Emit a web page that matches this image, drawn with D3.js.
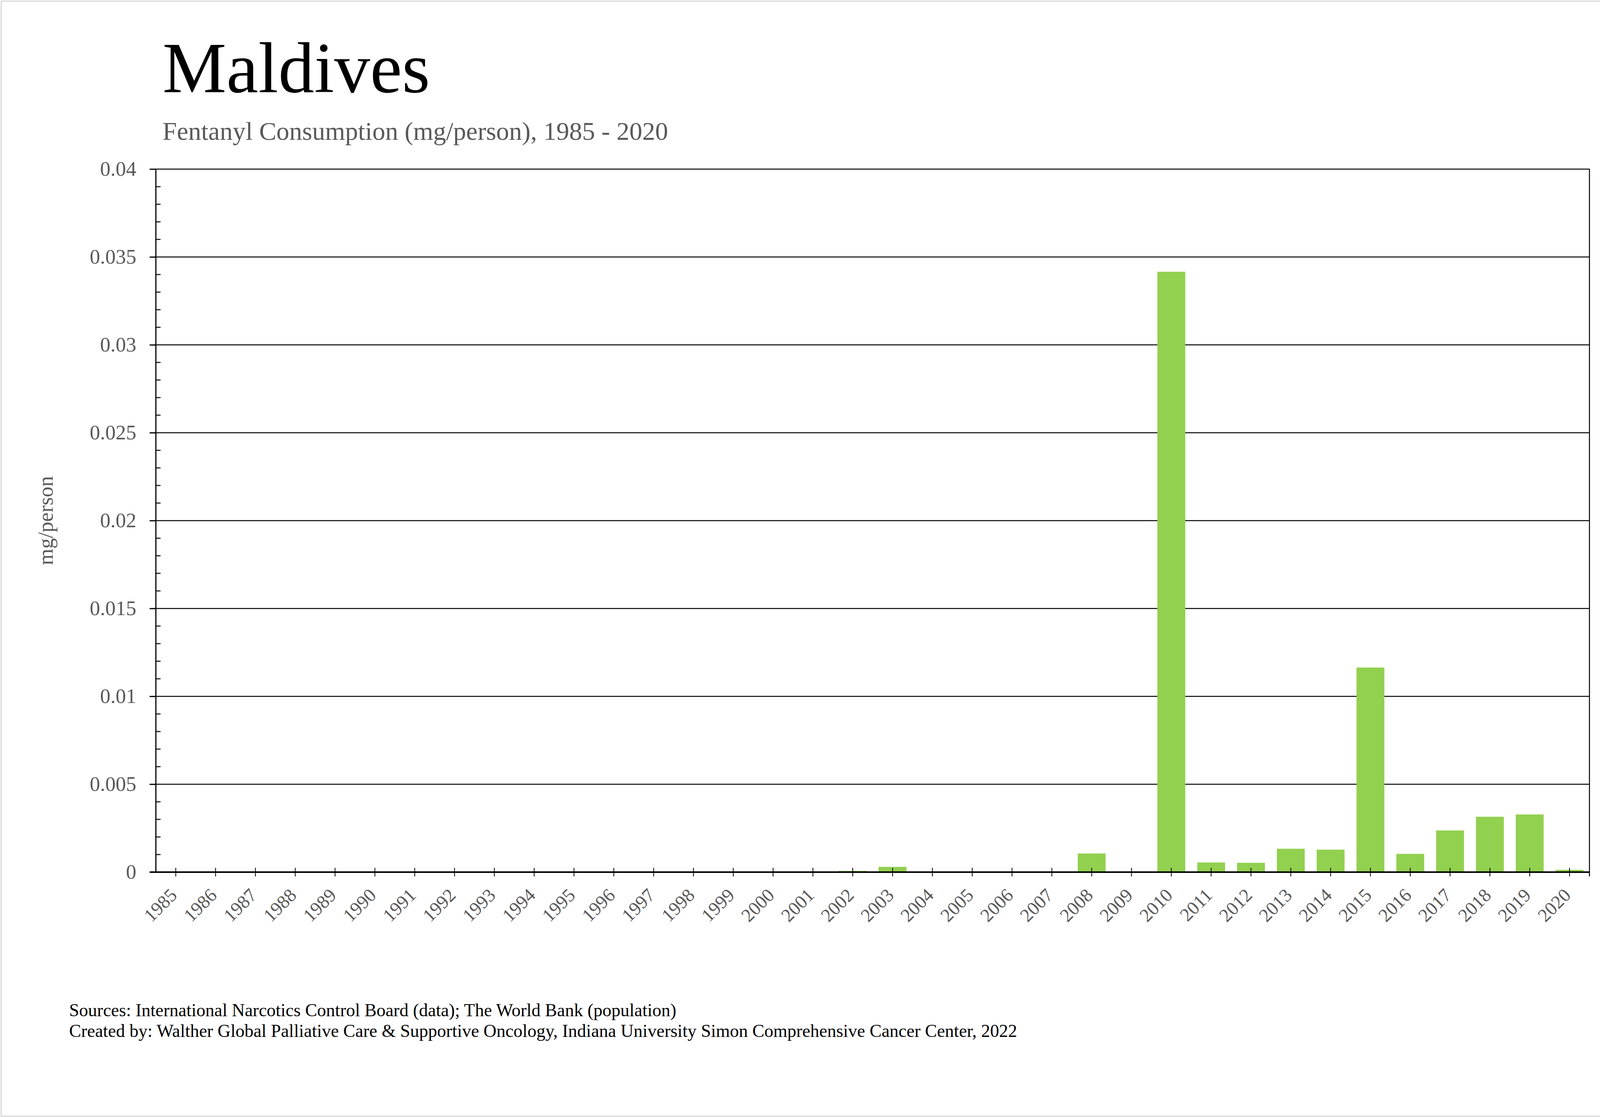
<!DOCTYPE html>
<html>
<head>
<meta charset="utf-8">
<script src="https://cdn.jsdelivr.net/npm/d3@7"></script>
<style>
	body { margin: 0; background: #fff; overflow: hidden; }
	svg { display: block; font-family: "Liberation Serif", "Times New Roman", serif; }
</style>
</head>
<body>
<svg id="chart"></svg>
<script>
// data
const years = ["1985", "1986", "1987", "1988", "1989", "1990", "1991", "1992", "1993", "1994",
	"1995", "1996", "1997", "1998", "1999", "2000", "2001", "2002", "2003", "2004",
	"2005", "2006", "2007", "2008", "2009", "2010", "2011", "2012", "2013", "2014",
	"2015", "2016", "2017", "2018", "2019", "2020"];
const values = [0, 0, 0, 0, 0, 0, 0, 0, 0, 0,
	0, 0, 0, 0, 0, 0.00004, 0.00004, 0.00007, 0.0003, 0,
	0, 0, 0, 0.00106, 0, 0.03416, 0.00055, 0.00053, 0.00133, 0.00128,
	0.01164, 0.00104, 0.00237, 0.00315, 0.00328, 0.00013];
const yTicks = [0, 0.005, 0.01, 0.015, 0.02, 0.025, 0.03, 0.035, 0.04];

const title = "Maldives";
const subtitle = "Fentanyl Consumption (mg/person), 1985 - 2020";
const yLabel = "mg/person";
const footer = [
	"Sources: International Narcotics Control Board (data); The World Bank (population)",
	"Created by: Walther Global Palliative Care & Supportive Oncology, Indiana University Simon Comprehensive Cancer Center, 2022"
];

var width = 4221,
	height = 2860,
	margin = { top: 433, right: 152, bottom: 627, left: 399 };

var svg = d3.select("#chart").attr("width", width).attr("height", height);

// outer frame
svg
	.append("rect")
	.attr("x", 3)
	.attr("y", 3)
	.attr("width", width - 7)
	.attr("height", height - 5)
	.attr("fill", "#fff")
	.attr("stroke", "#d9d9d9")
	.attr("stroke-width", 3);

let x = d3
	.scaleBand()
	.domain(years)
	.range([margin.left, width - margin.right])
	.paddingInner(0.3)
	.paddingOuter(0.15);

let y = d3
	.scaleLinear()
	.domain([0, 0.04])
	.range([height - margin.bottom, margin.top]);

// titles
svg
	.append("text")
	.attr("x", 416)
	.attr("y", 236)
	.attr("font-size", 184)
	.attr("fill", "#000")
	.text(title);

svg
	.append("text")
	.attr("x", 416)
	.attr("y", 358)
	.attr("font-size", 66)
	.attr("fill", "#595959")
	.text(subtitle);

// gridlines
svg
	.append("g")
	.selectAll("line")
	.data(yTicks.filter((d) => d > 0))
	.join("line")
	.attr("x1", margin.left - 16)
	.attr("x2", width - margin.right)
	.attr("y1", (d) => y(d))
	.attr("y2", (d) => y(d))
	.attr("stroke", "#000")
	.attr("stroke-width", 2.5);

// right border of plot
svg
	.append("line")
	.attr("x1", width - margin.right)
	.attr("x2", width - margin.right)
	.attr("y1", margin.top - 1)
	.attr("y2", height - margin.bottom + 11)
	.attr("stroke", "#000")
	.attr("stroke-width", 2.5);

// bars
svg
	.append("g")
	.selectAll("rect")
	.data(years.map((d, i) => ({ year: d, value: values[i] })))
	.join("rect")
	.attr("x", (d) => x(d.year))
	.attr("width", x.bandwidth())
	.attr("y", (d) => y(d.value))
	.attr("height", (d) => y(0) - y(d.value))
	.attr("fill", "#92d050");

// y axis
let yAxis = (g) =>
	g
		.attr("transform", `translate(${margin.left},0)`)
		.call(
			d3
				.axisLeft(y)
				.tickValues(yTicks)
				.tickSize(16)
				.tickPadding(34)
				.tickFormat((d) => String(d))
		)
		.call((g) => g.select(".domain").attr("stroke-width", 3).attr("d", `M0,${margin.top - 1}V${height - margin.bottom}`))
		.call((g) => g.selectAll(".tick line").attr("stroke-width", 2.5))
		.call((g) =>
			g
				.selectAll(".tick text")
				.attr("font-size", 53)
				.attr("font-family", "Liberation Serif")
				.attr("fill", "#595959")
		);

svg.append("g").call(yAxis);

// minor ticks on the inside
svg
	.append("g")
	.selectAll("line")
	.data(y.ticks(40).filter((d) => yTicks.indexOf(+d.toFixed(3)) < 0))
	.join("line")
	.attr("x1", margin.left)
	.attr("x2", margin.left + 12)
	.attr("y1", (d) => y(d))
	.attr("y2", (d) => y(d))
	.attr("stroke", "#000")
	.attr("stroke-width", 2.5);

// x axis
let xAxis = (g) =>
	g
		.attr("transform", `translate(0,${y(0)})`)
		.call(d3.axisBottom(x).tickSize(11).tickSizeOuter(0))
		.call((g) => g.select(".domain").attr("stroke-width", 4).attr("d", `M${margin.left - 16},0H${width - margin.right}`))
		.call((g) => g.selectAll(".tick line").attr("y1", -11).attr("stroke-width", 2))
		.call((g) =>
			g
				.selectAll(".tick text")
				.attr("font-size", 48)
				.attr("font-family", "Liberation Serif")
				.attr("fill", "#595959")
				.attr("text-anchor", "end")
				.attr("dy", 0)
				.attr("transform", "translate(6,62) rotate(-45)")
				.attr("y", 0)
		);

svg.append("g").call(xAxis);

// y label
svg
	.append("text")
	.attr("transform", `translate(135,${(margin.top + height - margin.bottom) / 2}) rotate(-90)`)
	.attr("text-anchor", "middle")
	.attr("font-size", 54)
	.attr("fill", "#595959")
	.text(yLabel);

// footer
svg
	.append("g")
	.selectAll("text")
	.data(footer)
	.join("text")
	.attr("x", 177)
	.attr("y", (d, i) => 2602 + i * 53)
	.attr("font-size", 46)
	.attr("fill", "#000")
	.text((d) => d);
</script>
</body>
</html>
